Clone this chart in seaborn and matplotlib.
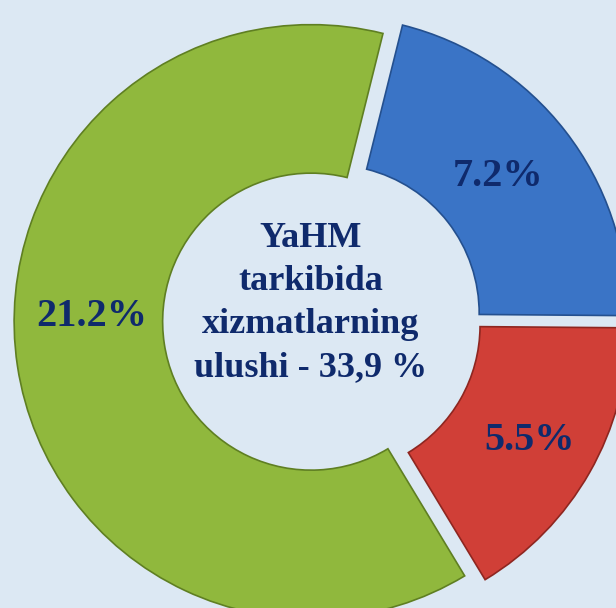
import matplotlib
matplotlib.use("Agg")
import matplotlib.pyplot as plt
import seaborn as sns
import numpy as np

# ---- data ----
categories = ["Blue", "Red", "Green"]
values = [7.2, 5.5, 21.2]
value_labels = ["7.2%", "5.5%", "21.2%"]
center_lines = ["YaHM", "tarkibida", "xizmatlarning", "ulushi - 33,9 %"]

# ---- style ----
sns.set_theme(style="white")
plt.rcParams["font.family"] = ["Liberation Serif", "DejaVu Serif"]

bg = "#dce8f3"
colors = ["#3a74c6", "#d03f37", "#90b83d"]
edges = ["#24508f", "#8e2620", "#5f7f22"]
text_color = "#0f2a6c"

W, H = 616, 608
fig = plt.figure(figsize=(W / 100, H / 100), dpi=100, facecolor=bg)
ax = fig.add_axes([0, 0, 1, 1])
ax.set_facecolor(bg)

# pixel geometry of the reference
cx, cy, R = 322, 320, 297

wedges, _ = ax.pie(
    values,
    colors=colors,
    startangle=76,
    counterclock=False,
    explode=[0.037] * len(values),
    radius=1.0,
    wedgeprops=dict(width=0.5, linewidth=1.2),
)
for w, ec in zip(wedges, edges):
    w.set_edgecolor(ec)

ax.set_aspect("auto")
ax.set_xlim(-cx / R, (W - cx) / R)
ax.set_ylim((cy - H) / R, cy / R)
ax.axis("off")

# labels placed along each wedge, relative to its (exploded) centre
label_r = [0.73, 0.77, 0.74]
label_shift = [1.5, -0.5, -10.0]  # degrees
for w, lab, r, sh in zip(wedges, value_labels, label_r, label_shift):
    ang = np.deg2rad((w.theta1 + w.theta2) / 2 + sh)
    x0, y0 = w.center
    ax.text(x0 + r * np.cos(ang), y0 + r * np.sin(ang), lab,
            ha="center", va="center", fontsize=29, fontweight="bold",
            color=text_color)

# centre text
base_px = 247
step_px = 43
for i, line in enumerate(center_lines):
    py = base_px + i * step_px
    ax.text((311 - cx) / R, (cy - py) / R, line, ha="center", va="baseline",
            fontsize=26, fontweight="bold", color=text_color)

fig.savefig("out.png", dpi=100, facecolor=bg)
